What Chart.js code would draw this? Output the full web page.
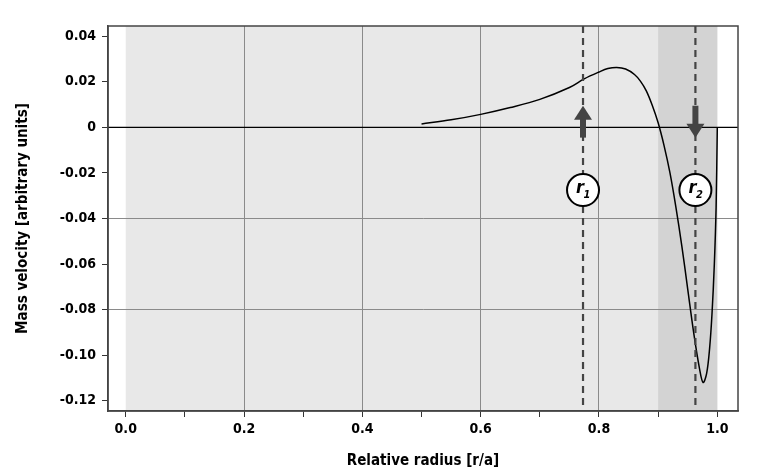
<!DOCTYPE html>
<html><head><meta charset="utf-8">
<script src="https://cdn.jsdelivr.net/npm/chart.js@4"></script>
<style>html,body{margin:0;padding:0;background:#fff}#c{width:763px;height:474px}</style>
</head><body><div id="c"><canvas id="cv"></canvas></div>
<script>
const radius = [0.5,0.55,0.6,0.65,0.7,0.75,0.775,0.8,0.815,0.83,0.845,0.86,0.87,0.88,0.89,0.9,0.91,0.92,0.93,0.94,0.95,0.96,0.97,0.976,0.982,0.987,0.991,0.995,0.998,1.0];
const velocity = [0.0015,0.0033,0.0057,0.0087,0.0123,0.0175,0.0213,0.0243,0.0258,0.0263,0.0256,0.0232,0.0203,0.016,0.0097,0.002,-0.008,-0.02,-0.035,-0.052,-0.071,-0.09,-0.106,-0.112,-0.108,-0.097,-0.082,-0.06,-0.035,0.0];
const xTicks = [0.0,0.2,0.4,0.6,0.8,1.0];
const yTicks = [0.04,0.02,0,-0.02,-0.04,-0.06,-0.08,-0.10,-0.12];
const markers = [{x:0.773,label:'1',dir:'up'},{x:0.963,label:'2',dir:'down'}];
const FONT = "'DejaVu Sans Condensed', 'DejaVu Sans', sans-serif";

const deco = {
  id:'deco',
  beforeDraw(c){
    const {ctx, chartArea:a, scales:{x,y}} = c;
    ctx.save();
    ctx.fillStyle='#e8e8e8';
    ctx.fillRect(x.getPixelForValue(0), a.top, x.getPixelForValue(1)-x.getPixelForValue(0), a.bottom-a.top);
    ctx.fillStyle='#d3d3d3';
    ctx.fillRect(x.getPixelForValue(0.9), a.top, x.getPixelForValue(1)-x.getPixelForValue(0.9), a.bottom-a.top);
    ctx.restore();
  },
  afterDatasetsDraw(c){
    const {ctx, chartArea:a, scales:{x,y}} = c;
    ctx.save();
    ctx.strokeStyle='#000'; ctx.lineWidth=1.2;
    ctx.beginPath(); ctx.moveTo(a.left,y.getPixelForValue(0)); ctx.lineTo(a.right,y.getPixelForValue(0)); ctx.stroke();
    markers.forEach(m=>{
      const px = x.getPixelForValue(m.x);
      ctx.strokeStyle='#444'; ctx.lineWidth=2.2; ctx.setLineDash([7,5]);
      ctx.beginPath(); ctx.moveTo(px,a.top); ctx.lineTo(px,a.bottom); ctx.stroke();
      ctx.setLineDash([]);
      const yTop = y.getPixelForValue(0.0095), yBot = y.getPixelForValue(-0.0045);
      ctx.strokeStyle='#444'; ctx.fillStyle='#444'; ctx.lineWidth=6;
      ctx.beginPath();
      if(m.dir==='up'){ ctx.moveTo(px,yBot); ctx.lineTo(px,yTop+10); }
      else { ctx.moveTo(px,yTop); ctx.lineTo(px,yBot-10); }
      ctx.stroke();
      ctx.beginPath();
      if(m.dir==='up'){ ctx.moveTo(px,yTop); ctx.lineTo(px-9,yTop+14); ctx.lineTo(px+9,yTop+14); }
      else { ctx.moveTo(px,yBot); ctx.lineTo(px-9,yBot-14); ctx.lineTo(px+9,yBot-14); }
      ctx.closePath(); ctx.fill();
      const cy = y.getPixelForValue(-0.0275);
      ctx.fillStyle='#fff'; ctx.strokeStyle='#000'; ctx.lineWidth=2;
      ctx.beginPath(); ctx.arc(px,cy,16,0,Math.PI*2); ctx.fill(); ctx.stroke();
      ctx.fillStyle='#000'; ctx.textBaseline='middle'; ctx.textAlign='center';
      ctx.font="italic bold 18px "+FONT; ctx.fillText('r',px-3,cy-2);
      ctx.font="italic bold 11px "+FONT; ctx.fillText(m.label,px+4,cy+5);
    });
    ctx.restore();
  },
  afterDraw(c){const {ctx,chartArea:a}=c;ctx.save();ctx.strokeStyle='#444';ctx.lineWidth=1.5;ctx.strokeRect(a.left,a.top,a.right-a.left,a.bottom-a.top);ctx.restore();}
};

new Chart(document.getElementById('cv'), {
  type:'line',
  data:{datasets:[{data:radius.map((r,i)=>({x:r,y:velocity[i]})),borderColor:'#000',borderWidth:1.5,pointRadius:0,tension:0.35,fill:false}]},
  options:{
    responsive:true, maintainAspectRatio:false, animation:false,
    layout:{padding:{top:26,right:25,left:0,bottom:0}},
    plugins:{legend:{display:false},tooltip:{enabled:false}},
    scales:{
      x:{type:'linear',min:-0.03,max:1.035,
        afterBuildTicks(s){ s.ticks=[]; for(let i=0;i<=10;i++) s.ticks.push({value:i/10}); },
        afterFit(s){ s.height=63; },
        ticks:{autoSkip:false,maxRotation:0,color:'#000',font:{family:FONT,size:14,weight:'bold'},padding:4,
          callback:(v)=>{ const r=Math.round(v*10); return r%2===0 ? (v).toFixed(1) : ''; }},
        grid:{drawTicks:true,tickLength:6,
          color:(ctx)=>{const v=Math.round((ctx.tick?ctx.tick.value:0)*10); return (v%2===0&&v>0&&v<10)?'#8a8a8a':'rgba(0,0,0,0)';},
          tickColor:'#333'},
        border:{color:'#444',width:1.5},
        title:{display:true,text:'Relative radius [r/a]',color:'#000',font:{family:FONT,size:15,weight:'bold'},padding:{top:6}}
      },
      y:{type:'linear',min:-0.1245,max:0.0445,
        afterBuildTicks(s){ s.ticks=yTicks.map(v=>({value:v})); },
        afterFit(s){ s.width=108; },
        ticks:{autoSkip:false,color:'#000',font:{family:FONT,size:14,weight:'bold'},padding:6,
          callback:(v)=>{ if(Math.abs(v)<1e-9) return '0'; return v.toFixed(2); }},
        grid:{tickLength:6,tickColor:'#333',
          color:(ctx)=>{const v=Math.round((ctx.tick?ctx.tick.value:0)*100); return (v===-4||v===-8)?'#8a8a8a':'rgba(0,0,0,0)';}},
        border:{color:'#444',width:1.5},
        title:{display:true,text:'Mass velocity [arbitrary units]',color:'#000',font:{family:FONT,size:15,weight:'bold'},padding:{top:14,bottom:0}}
      }
    }
  },
  plugins:[deco]
});
</script></body></html>
